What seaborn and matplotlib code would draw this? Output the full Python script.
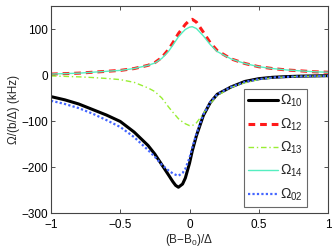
import numpy as np
import pandas as pd
import matplotlib
matplotlib.use('Agg')
import matplotlib.pyplot as plt
import seaborn as sns

# Значения
x = [-1.0, -0.9, -0.8, -0.7, -0.6, -0.5, -0.4, -0.3, -0.25, -0.2, -0.15, -0.12, -0.1, -0.08,
     -0.05, -0.03, 0.0, 0.02, 0.05, 0.1, 0.15, 0.2, 0.3, 0.4, 0.5, 0.6, 0.7, 0.8, 0.9, 1.0]

omega_10 = [-47, -54, -63, -75, -87, -101, -124, -153, -172, -195, -218, -232, -240, -244,
            -237, -224, -192, -165, -132, -88, -60, -42, -26, -14, -8, -5, -3.5, -2.5, -2, -1.5]
omega_12 = [2, 3, 4, 6, 8, 10, 14, 21, 27, 38, 56, 70, 80, 90,
            102, 110, 119, 121, 115, 93, 70, 53, 35, 25, 18, 14, 11, 9, 7, 6]
omega_13 = [-2, -3, -4, -5.5, -7.5, -10, -16, -28, -36, -50, -70, -81, -88, -95,
            -102, -106, -110, -110, -104, -84, -62, -45, -27, -17, -10, -6, -4, -3, -2.5, -2]
omega_14 = [2, 3, 4, 6, 8, 10, 14, 21, 26, 36, 52, 65, 74, 83,
            93, 99, 104, 105, 101, 85, 66, 51, 35, 25, 18, 14, 11, 9, 7, 6]
omega_02 = [-56, -63, -72, -84, -98, -113, -135, -163, -178, -195, -208, -214, -217, -219,
            -213, -204, -180, -158, -128, -86, -59, -42, -26, -15, -9, -5.5, -4, -3, -2.5, -2]

series = [
    (r'$\Omega_{10}$', omega_10, 'black', '-', 2.2),
    (r'$\Omega_{12}$', omega_12, '#ff1a1a', (0, (2.2, 1.6)), 2.2),
    (r'$\Omega_{13}$', omega_13, '#99ee33', (0, (4, 2, 1, 2)), 1.0),
    (r'$\Omega_{14}$', omega_14, '#55eec0', '-', 1.0),
    (r'$\Omega_{02}$', omega_02, '#4466ff', (0, (1, 1)), 1.6),
]

sns.set_style('ticks')
plt.rcParams['font.family'] = ['Liberation Sans', 'DejaVu Sans']
plt.rcParams['mathtext.fontset'] = 'custom'
plt.rcParams['mathtext.rm'] = 'Liberation Sans'
plt.rcParams['mathtext.it'] = 'Liberation Sans'

fig = plt.figure(figsize=(3.32, 2.5), dpi=100)
ax = fig.add_axes([51 / 332, 1 - 213 / 250, 277 / 332, 207 / 250])

for label, vals, color, ls, lw in series:
    df = pd.DataFrame({'x': x, 'y': vals})
    sns.lineplot(data=df, x='x', y='y', ax=ax, color=color, linestyle=ls,
                 linewidth=lw, label=label)

ax.set_xlim(-1, 1)
ax.set_ylim(-300, 150)
ax.set_xticks([-1, -0.5, 0, 0.5, 1])
ax.set_xticklabels(['\u22121', '\u22120.5', '0', '0.5', '1'])
ax.set_yticks([-300, -200, -100, 0, 100])
ax.set_yticklabels(['\u2212300', '\u2212200', '\u2212100', '0', '100'])
ax.tick_params(direction='in', length=3, width=0.6, labelsize=8.5, pad=2,
               top=True, right=True, colors='#333333', labelcolor='black')
ax.tick_params(axis='x', pad=4)
for s in ax.spines.values():
    s.set_color('#444444')
    s.set_linewidth(0.8)

ax.set_xlabel('(B\u2212B$_0$)/\u0394', fontsize=8.5, labelpad=1)
ax.set_ylabel('\u03a9/(b/\u0394) (kHz)', fontsize=8.5, labelpad=1)

leg = ax.legend(loc='lower right', bbox_to_anchor=(0.924, 0.029), borderaxespad=0,
                fontsize=10, handlelength=2.2, handletextpad=0.1,
                labelspacing=0.5, borderpad=0.3, fancybox=False, frameon=True)
leg.get_frame().set_edgecolor('#444444')
leg.get_frame().set_linewidth(0.8)

fig.savefig('out.png', dpi=100)
